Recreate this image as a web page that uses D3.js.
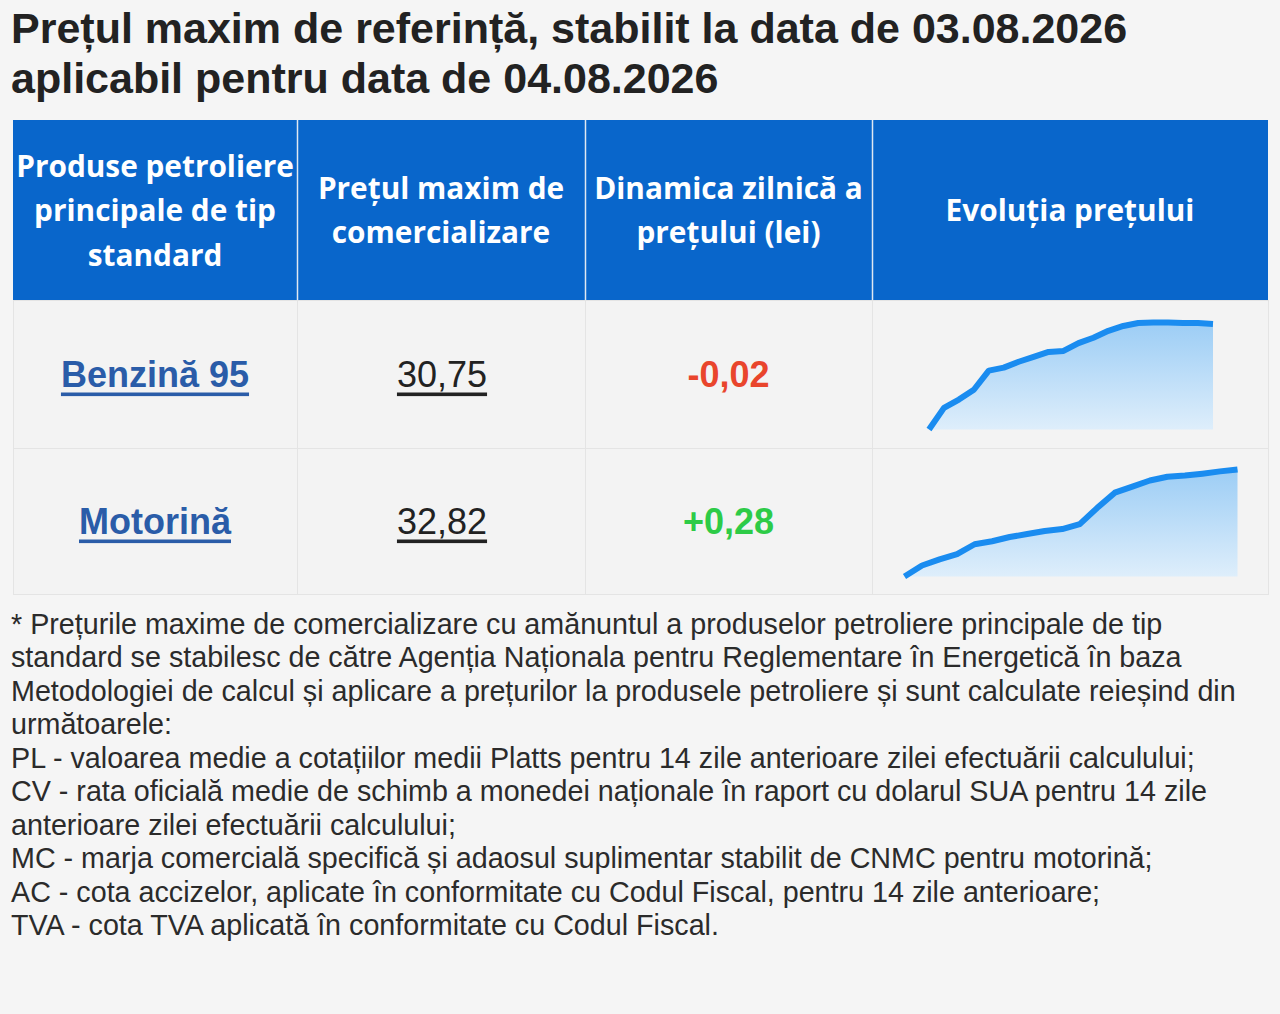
<!DOCTYPE html>
<html>
<head>
<meta charset="utf-8">
<script src="https://cdn.jsdelivr.net/npm/d3@7"></script>
<style>
  html, body { margin: 0; padding: 0; background: #f5f5f5; }
  svg { display: block; }
</style>
</head>
<body>
<div id="chart"></div>
<script>
// Data
var titleLines = [
    "Prețul maxim de referință, stabilit la data de 03.08.2026",
    "aplicabil pentru data de 04.08.2026"
];
var headerLines = [
    ["Produse petroliere", "principale de tip", "standard"],
    ["Prețul maxim de", "comercializare"],
    ["Dinamica zilnică a", "prețului (lei)"],
    ["Evoluția prețului"]
];
var products = ["Benzină 95", "Motorină"];
var prices = ["30,75", "32,82"];
var dynamics = [-0.02, 0.28];

// price history for the sparklines (lei)
var benzinaHistory = [28.60, 29.04, 29.21, 29.41, 29.80, 29.86, 29.98, 30.08, 30.18, 30.20,
                      30.36, 30.47, 30.61, 30.71, 30.77, 30.78, 30.78, 30.77, 30.77, 30.75];
var motorinaHistory = [30.00, 30.29, 30.45, 30.59, 30.85, 30.93, 31.04, 31.12, 31.20, 31.25,
                       31.38, 31.81, 32.21, 32.37, 32.53, 32.63, 32.66, 32.71, 32.77, 32.82];
var histories = [benzinaHistory, motorinaHistory];

var footnoteLines = [
    "* Prețurile maxime de comercializare cu amănuntul a produselor petroliere principale de tip",
    "standard se stabilesc de către Agenția Naționala pentru Reglementare în Energetică în baza",
    "Metodologiei de calcul și aplicare a prețurilor la produsele petroliere și sunt calculate reieșind din",
    "următoarele:",
    "PL - valoarea medie a cotațiilor medii Platts pentru 14 zile anterioare zilei efectuării calculului;",
    "CV - rata oficială medie de schimb a monedei naționale în raport cu dolarul SUA pentru 14 zile",
    "anterioare zilei efectuării calculului;",
    "MC - marja comercială specifică și adaosul suplimentar stabilit de CNMC pentru motorină;",
    "AC - cota accizelor, aplicate în conformitate cu Codul Fiscal, pentru 14 zile anterioare;",
    "TVA - cota TVA aplicată în conformitate cu Codul Fiscal."
];

// Layout
var W = 1280, H = 1014;
var colEdges = [13, 297, 585, 872, 1268];
var headTop = 120, headBottom = 300;
var rowEdges = [300, 448, 594];
var sparkWidths = [284, 333];
var sparkH = 107;

var svg = d3.select('#chart').append('svg')
    .attr('width', W)
    .attr('height', H)
    .style('background', '#f5f5f5');

// title
svg.append('g').selectAll('text')
    .data(titleLines)
    .enter().append('text')
        .attr('x', 11)
        .attr('y', function (d, i) { return 28 + i * 50; })
        .attr('dominant-baseline', 'central')
        .style('font-family', '"Liberation Sans", Arial, sans-serif')
        .style('font-weight', 'bold')
        .style('font-size', '43px')
        .style('fill', '#222')
        .text(function (d) { return d; });

// header cells
var head = svg.append('g');
head.selectAll('rect')
    .data(headerLines)
    .enter().append('rect')
        .attr('x', function (d, i) { return colEdges[i] + (i ? 1 : 0); })
        .attr('y', headTop)
        .attr('width', function (d, i) { return colEdges[i + 1] - colEdges[i] - (i ? 1 : 0); })
        .attr('height', headBottom - headTop)
        .attr('fill', '#0966cb');

// light separators between header cells
head.selectAll('line')
    .data(colEdges.slice(1, 4))
    .enter().append('line')
        .attr('x1', function (d) { return d + 0.5; })
        .attr('x2', function (d) { return d + 0.5; })
        .attr('y1', headTop)
        .attr('y2', headBottom)
        .attr('stroke', '#dfe8f2')
        .attr('stroke-width', 1.5);

headerLines.forEach(function (lines, i) {
    var cx = (colEdges[i] + colEdges[i + 1]) / 2;
    var cy = (headTop + headBottom) / 2 - 0.5;
    var lh = 44.5;
    head.append('g').selectAll('text')
        .data(lines)
        .enter().append('text')
            .attr('x', cx)
            .attr('y', function (d, j) { return cy + (j - (lines.length - 1) / 2) * lh; })
            .attr('text-anchor', 'middle')
            .attr('dominant-baseline', 'central')
            .style('font-family', '"Open Sans", sans-serif')
            .style('font-weight', 700)
            .style('font-size', '29.8px')
            .style('fill', '#fff')
            .text(function (d) { return d; });
});

// body cells
var body = svg.append('g');
products.forEach(function (p, r) {
    for (var c = 0; c < 4; c++) {
        body.append('rect')
            .attr('x', colEdges[c] + 0.5)
            .attr('y', rowEdges[r] + 0.5)
            .attr('width', colEdges[c + 1] - colEdges[c])
            .attr('height', rowEdges[r + 1] - rowEdges[r])
            .attr('fill', '#f3f3f3')
            .attr('stroke', '#e4e4e4')
            .attr('stroke-width', 1);
    }
});

function colCenter(c) { return (colEdges[c] + colEdges[c + 1]) / 2; }
function rowCenter(r) { return (rowEdges[r] + rowEdges[r + 1]) / 2; }

// product names
body.selectAll('.prod')
    .data(products)
    .enter().append('text')
        .attr('class', 'prod')
        .attr('x', colCenter(0))
        .attr('y', function (d, i) { return rowCenter(i); })
        .attr('text-anchor', 'middle')
        .attr('dominant-baseline', 'central')
        .style('font-family', '"Liberation Sans", Arial, sans-serif')
        .style('font-weight', 'bold')
        .style('font-size', '36px')
        .style('fill', '#2a5ca8')
        .style('text-decoration', 'underline')
        .text(function (d) { return d; });

// prices
body.selectAll('.price')
    .data(prices)
    .enter().append('text')
        .attr('class', 'price')
        .attr('x', colCenter(1) + 1)
        .attr('y', function (d, i) { return rowCenter(i); })
        .attr('text-anchor', 'middle')
        .attr('dominant-baseline', 'central')
        .style('font-family', '"Liberation Sans", Arial, sans-serif')
        .style('font-size', '36px')
        .style('fill', '#222')
        .style('text-decoration', 'underline')
        .text(function (d) { return d; });

// daily dynamics
var fmt = d3.format('.2f');
body.selectAll('.dyn')
    .data(dynamics)
    .enter().append('text')
        .attr('class', 'dyn')
        .attr('x', colCenter(2))
        .attr('y', function (d, i) { return rowCenter(i); })
        .attr('text-anchor', 'middle')
        .attr('dominant-baseline', 'central')
        .style('font-family', '"Liberation Sans", Arial, sans-serif')
        .style('font-weight', 'bold')
        .style('font-size', '36px')
        .style('fill', function (d) { return d < 0 ? '#e9452c' : '#2dcb47'; })
        .text(function (d) {
            return (d > 0 ? '+' : '') + fmt(d).replace('.', ',').replace('\u2212', '-');
        });

// gradient for sparkline area
var defs = svg.append('defs');
var grad = defs.append('linearGradient')
    .attr('id', 'sparkFill')
    .attr('x1', 0).attr('y1', 0).attr('x2', 0).attr('y2', 1);
grad.append('stop').attr('offset', '0%').attr('stop-color', '#9ccdf5');
grad.append('stop').attr('offset', '100%').attr('stop-color', '#deeefb');

// sparklines
histories.forEach(function (hist, r) {
    var w = sparkWidths[r];
    var cx = colCenter(3) + 1;
    var cy = rowCenter(r) + 2;
    var x = d3.scaleLinear()
        .domain([0, hist.length - 1])
        .range([cx - w / 2, cx + w / 2]);
    var y = d3.scaleLinear()
        .domain(d3.extent(hist))
        .range([cy + sparkH / 2, cy - sparkH / 2]);

    var area = d3.area()
        .x(function (d, i) { return x(i); })
        .y0(y.range()[0])
        .y1(function (d) { return y(d); });
    var line = d3.line()
        .x(function (d, i) { return x(i); })
        .y(function (d) { return y(d); });

    body.append('path')
        .datum(hist)
        .attr('d', area)
        .attr('fill', 'url(#sparkFill)');
    body.append('path')
        .datum(hist)
        .attr('d', line)
        .attr('fill', 'none')
        .attr('stroke', '#1a8cf0')
        .attr('stroke-width', 6)
        .attr('stroke-linejoin', 'round')
        .attr('stroke-linecap', 'butt');
});

// footnote
svg.append('g').selectAll('text')
    .data(footnoteLines)
    .enter().append('text')
        .attr('x', 11)
        .attr('y', function (d, i) { return 624 + i * 33.45; })
        .attr('dominant-baseline', 'central')
        .style('font-family', '"Liberation Sans", Arial, sans-serif')
        .style('font-size', '28.7px')
        .style('fill', '#2b2b2b')
        .text(function (d) { return d; });
</script>
</body>
</html>
